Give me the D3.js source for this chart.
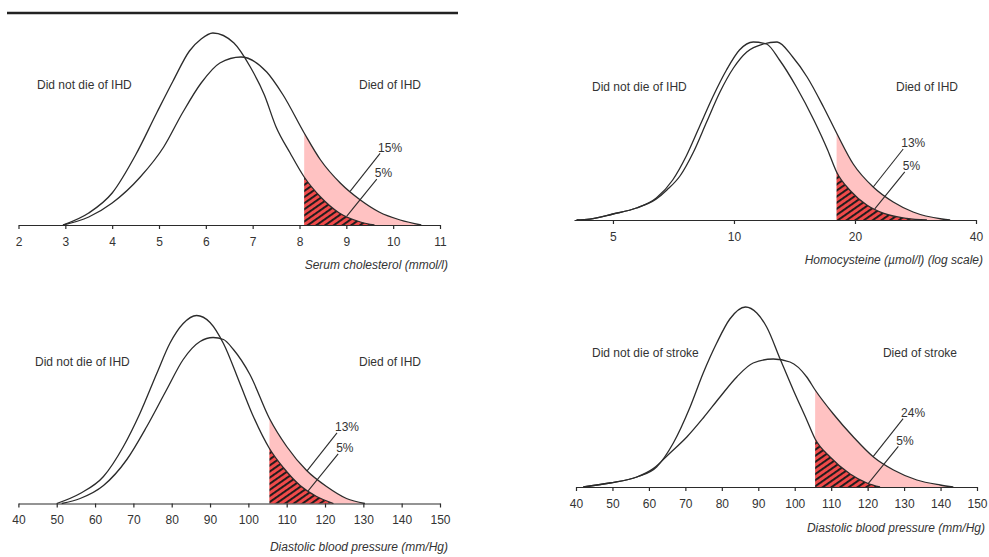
<!DOCTYPE html>
<meta charset="utf-8">
<style>

body { margin: 0; background: #fff; }
text { font-family: "Liberation Sans", Arial, sans-serif; font-size: 12px; fill: #333; }
.curve { fill: none; stroke: #2b2b2b; stroke-width: 1.3px; }
.axis path, .axis line { stroke: #2b2b2b; stroke-width: 1.2px; }
.axis text { font-family: "Liberation Sans", Arial, sans-serif; font-size: 12px; fill: #333; }
.title { font-style: italic; }
.leader { stroke: #2b2b2b; stroke-width: 1.1px; }

</style>
<svg width="989" height="557"></svg>
<script src="https://d3js.org/d3.v7.min.js"></script>
<script>

// [value, relative frequency]
var cholNoIHD = [[2.95,0],[3.5,6],[4.0,16],[4.5,35],[4.95,56],[5.3,72],[5.65,87],[5.9,93],[6.15,96],[6.6,91],[6.95,79],[7.25,65],[7.5,49],[7.8,36],[8.1,24],[8.45,14],[8.85,6],[9.3,1.5],[9.6,0]];
var cholIHD   = [[2.95,0],[3.5,4],[4.0,11],[4.6,24],[5.1,39],[5.5,56],[5.9,71],[6.3,81],[6.75,84],[7.3,76.5],[7.65,65],[8.1,46],[8.45,32.5],[8.87,21],[9.3,12.5],[9.7,6.5],[10.15,2.5],[10.6,0]];

var hcyNoIHD = [[4.06,0],[4.38,0.4],[5.0,3],[5.72,6],[6.41,11],[7.04,20],[7.61,32],[8.22,47],[8.88,62],[9.58,75],[10.32,85],[11.17,89],[12.04,88],[12.98,80],[14.3,66.5],[15.8,50],[17.1,35],[18.0,24],[19.5,14.5],[21.4,7.5],[23.6,3.3],[26.9,0.8],[30.2,0]];
var hcyIHD   = [[4.06,0],[4.38,0.4],[5.0,3],[5.72,6],[6.41,10.5],[6.81,15],[7.34,22],[7.93,34],[8.55,49],[9.23,64],[9.97,76],[10.76,84],[11.83,88],[12.8,89],[14.0,81.5],[15.2,71.5],[16.7,56.5],[18.0,43.5],[19.8,28],[22.2,16.5],[24.9,9],[27.9,4],[32.9,0.5],[34.5,0]];

var dbpNoIHD = [[50,0],[56.1,5],[62.2,13.5],[67.4,28.5],[71.7,45],[76.1,65],[79.5,80],[83.0,90],[86.5,94],[90.0,90.5],[93.5,80],[97.8,60],[101.3,43.5],[105.5,27.5],[109.1,18],[113.5,9],[117.8,3.5],[122.2,0]];
var dbpIHD   = [[51.3,0],[56.1,2.5],[62.2,9],[68.3,22],[73.5,38.5],[78.7,57],[83.0,72],[87.4,81],[90.8,83],[93.5,82],[96.1,77],[100.4,64.5],[105.5,42.5],[110.0,28.5],[115.2,16.5],[120.4,8.5],[125.6,2.5],[130.4,0]];

var dbpNoStroke = [[42,0],[49.3,2],[56.7,5],[62.1,10],[66.7,22],[71.3,40],[74.9,57],[78.6,72],[82.2,84],[86.5,90],[89.6,87],[92.3,80],[96.0,64],[99.6,48.5],[103.3,33.5],[105.6,24],[109.7,15],[115.2,6.5],[119.8,2],[123.4,0]];
var dbpStroke   = [[42,0],[49.3,2],[56.7,5],[61.2,9.2],[65.8,17],[70.4,25],[74.9,34.5],[79.5,45],[84.1,55],[88.6,62],[94.1,64],[98.7,62.5],[103.3,55],[105.6,48.5],[110.6,36.5],[116.1,25],[121.6,15],[127.1,8.5],[133.5,3.5],[139.9,1],[143.5,0]];

var cholTicks = [2, 3, 4, 5, 6, 7, 8, 9, 10, 11];
var hcyTicks  = [5, 10, 20, 40];
var dbpTicks  = [40, 50, 60, 70, 80, 90, 100, 110, 120, 130, 140, 150];

var cutoffs     = [8.1, 18.0, 105.5, 105.6];
var pctAffected = ["15%", "13%", "13%", "24%"];
var pctUnaffected = ["5%", "5%", "5%", "5%"];

var panels = [
  { no: cholNoIHD, yes: cholIHD, cut: cutoffs[0], log: false, domain: [2, 11], range: [18.5, 440], base: 225,
    ticks: cholTicks, title: "Serum cholesterol (mmol/l)", titleX: 448, titleY: 265,
    left: "Did not die of IHD", right: "Died of IHD", labelY: 85, leftX: 37, rightX: 421,
    pA: pctAffected[0], pU: pctUnaffected[0], atA: 9.08, atU: 9.01 },
  { no: hcyNoIHD, yes: hcyIHD, cut: cutoffs[1], log: true, domain: [4, 40], range: [574, 976], base: 220,
    ticks: hcyTicks, title: "Homocysteine (\u00b5mol/l) (log scale)", titleX: 983, titleY: 260,
    left: "Did not die of IHD", right: "Died of IHD", labelY: 87, leftX: 592, rightX: 958,
    pA: pctAffected[1], pU: pctUnaffected[1], atA: 22.2, atU: 22.4 },
  { no: dbpNoIHD, yes: dbpIHD, cut: cutoffs[2], log: false, domain: [40, 150], range: [18.4, 440], base: 503.5,
    ticks: dbpTicks, title: "Diastolic blood pressure (mm/Hg)", titleX: 448, titleY: 547,
    left: "Did not die of IHD", right: "Died of IHD", labelY: 362, leftX: 35, rightX: 421,
    pA: pctAffected[2], pU: pctUnaffected[2], atA: 115.3, atU: 115.6 },
  { no: dbpNoStroke, yes: dbpStroke, cut: cutoffs[3], log: false, domain: [40, 150], range: [576, 977], base: 487,
    ticks: dbpTicks, title: "Diastolic blood pressure (mm/Hg)", titleX: 985, titleY: 528,
    left: "Did not die of stroke", right: "Died of stroke", labelY: 353, leftX: 592, rightX: 957,
    pA: pctAffected[3], pU: pctUnaffected[3], atA: 121.5, atU: 120.2 }
];

var svg = d3.select("svg");
var defs = svg.append("defs");

var hatch = defs.append("pattern")
    .attr("id", "hatch")
    .attr("patternUnits", "userSpaceOnUse")
    .attr("width", 5)
    .attr("height", 5)
    .attr("patternTransform", "rotate(-35)");
hatch.append("rect").attr("width", 5).attr("height", 5).attr("fill", "#f04a4a");
hatch.append("rect").attr("y", 0).attr("width", 5).attr("height", 1.9).attr("fill", "#1a1a1a");

// rule across the top of the first panel
svg.append("line")
    .attr("x1", 7).attr("x2", 458).attr("y1", 13).attr("y2", 13)
    .attr("stroke", "#222").attr("stroke-width", 2.6);

function valueAt(series, v) {
  for (var i = 1; i < series.length; i++) {
    var a = series[i - 1], b = series[i];
    if (v >= a[0] && v <= b[0]) return a[1] + (b[1] - a[1]) * (v - a[0]) / (b[0] - a[0]);
  }
  return 0;
}

panels.forEach(function(p, i) {
  var x = (p.log ? d3.scaleLog() : d3.scaleLinear()).domain(p.domain).range(p.range);
  var y = d3.scaleLinear().domain([0, 100]).range([p.base, p.base - 200]);
  var g = svg.append("g");

  var line = d3.line()
      .x(function(d) { return x(d[0]); })
      .y(function(d) { return y(d[1]); })
      .curve(d3.curveMonotoneX);
  var area = d3.area()
      .x(function(d) { return x(d[0]); })
      .y0(p.base)
      .y1(function(d) { return y(d[1]); })
      .curve(d3.curveMonotoneX);

  defs.append("clipPath").attr("id", "clip" + i)
    .append("rect")
      .attr("x", x(p.cut)).attr("y", 0)
      .attr("width", 989).attr("height", p.base + 0.5);

  g.append("path").datum(p.yes)
      .attr("d", area)
      .attr("fill", "#ffc2c2")
      .attr("clip-path", "url(#clip" + i + ")");
  g.append("path").datum(p.no)
      .attr("d", area)
      .attr("fill", "url(#hatch)")
      .attr("clip-path", "url(#clip" + i + ")");

  g.append("path").datum(p.no).attr("class", "curve").attr("d", line);
  g.append("path").datum(p.yes).attr("class", "curve").attr("d", line);

  var axis = d3.axisBottom(x)
      .tickValues(p.ticks)
      .tickFormat(d3.format("d"))
      .tickSize(4)
      .tickSizeOuter(0)
      .tickPadding(8);
  g.append("g").attr("class", "axis")
      .attr("transform", "translate(0," + p.base + ")")
      .call(axis);

  g.append("text").attr("class", "title")
      .attr("x", p.titleX).attr("y", p.titleY).attr("dy", "0.35em")
      .attr("text-anchor", "end")
      .text(p.title);

  g.append("text")
      .attr("x", p.leftX).attr("y", p.labelY).attr("dy", "0.35em")
      .text(p.left);
  g.append("text")
      .attr("x", p.rightX).attr("y", p.labelY).attr("dy", "0.35em")
      .attr("text-anchor", "end")
      .text(p.right);

  [[p.atA, p.yes, p.pA, -38], [p.atU, p.no, p.pU, -37]].forEach(function(a) {
    var ex = x(a[0]), ey = y(valueAt(a[1], a[0]));
    var sx = ex + 30, sy = ey + a[3];
    g.append("line").attr("class", "leader")
        .attr("x1", sx).attr("y1", sy).attr("x2", ex).attr("y2", ey);
    g.append("text")
        .attr("x", sx - 2).attr("y", sy - 6).attr("dy", "0.35em")
        .text(a[2]);
  });
});

</script>
